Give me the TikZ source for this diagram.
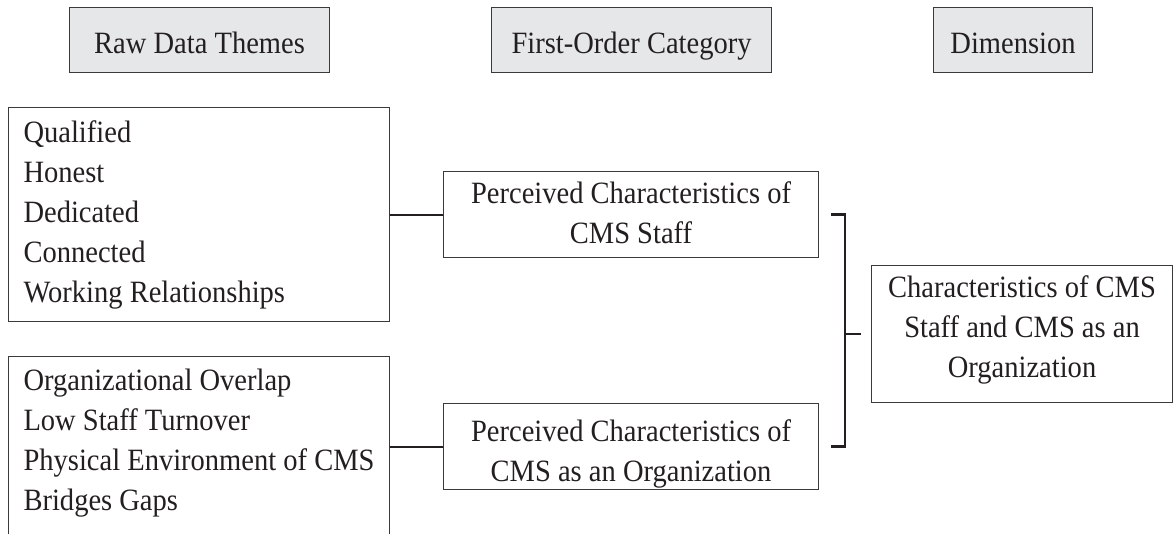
\documentclass[tikz,border=0pt]{standalone}
\usepackage{fontspec}
\setmainfont{Liberation Serif}[FakeStretch=0.92]
\usetikzlibrary{calc}

\definecolor{ink}{HTML}{231F20}
\definecolor{edge}{HTML}{3A3A3A}
\definecolor{headfill}{HTML}{E6E7E8}

% fixed-size text block: width, height, first baseline, alignment, lines
\newcommand\boxtext[5]{%
  \begin{minipage}[t][#2][t]{#1}%
  \parindent=0pt #4\rule{0pt}{#3}#5%
  \end{minipage}}
\newcommand\lefttext{\raggedright\leftskip=15pt }

\begin{document}
\begin{tikzpicture}[x=1pt,y=-1pt,
  font=\fontsize{31}{40}\selectfont, text=ink,
  plainbox/.style={draw=edge, line width=1.1pt, inner sep=0pt, anchor=north west},
  headbox/.style={plainbox, fill=headfill},
  link/.style={draw=ink, line width=2pt},
  bracket/.style={draw=ink, line width=2.6pt, line join=miter}]

\useasboundingbox (0,0) rectangle (1173,534);
\clip (0,0) rectangle (1173,534);

% column headings
\node[headbox] (h1) at (69,7)  {\boxtext{260pt}{65pt}{46pt}{\centering}{Raw Data Themes}};
\node[headbox] (h2) at (491,7) {\boxtext{280pt}{65pt}{46pt}{\centering}{First-Order Category}};
\node[headbox] (h3) at (933,7) {\boxtext{159pt}{65pt}{46pt}{\centering}{Dimension}};

% raw data themes
\node[plainbox] (r1) at (8,107) {\boxtext{381pt}{214pt}{35pt}{\lefttext}%
  {Qualified\\Honest\\Dedicated\\Connected\\Working Relationships}};
\node[plainbox] (r2) at (8,356) {\boxtext{381pt}{240pt}{34pt}{\lefttext}%
  {Organizational Overlap\\Low Staff Turnover\\Physical Environment of CMS\\Bridges Gaps}};

% first-order categories
\node[plainbox] (p1) at (443,171) {\boxtext{375pt}{86pt}{32pt}{\centering}%
  {Perceived Characteristics of\\CMS Staff}};
\node[plainbox] (p2) at (443,403) {\boxtext{375pt}{86pt}{38pt}{\centering}%
  {Perceived Characteristics of\\CMS as an Organization}};

% dimension
\node[plainbox] (d1) at (871,265) {\boxtext{301pt}{137pt}{32pt}{\centering}%
  {Characteristics of CMS\\Staff and CMS as an\\Organization}};

% links from themes to categories
\draw[link] (r1.east) -- (p1.west);
\draw[link] (p2.west) -- (p2.west -| r2.east);

% bracket joining the two categories to the dimension
\coordinate (bt) at ($(p1.east)+(12,0)$);
\coordinate (bb) at ($(p2.east)+(12,0)$);
\coordinate (bx) at ($(p1.east)+(26,0)$);
\coordinate (bm) at ($(d1.west)+(-10,0)$);
\draw[bracket] (bt) -- (bt -| bx) -- (bb -| bx) -- (bb);
\draw[bracket] (bx |- d1.west) -- (bm);

\end{tikzpicture}
\end{document}
